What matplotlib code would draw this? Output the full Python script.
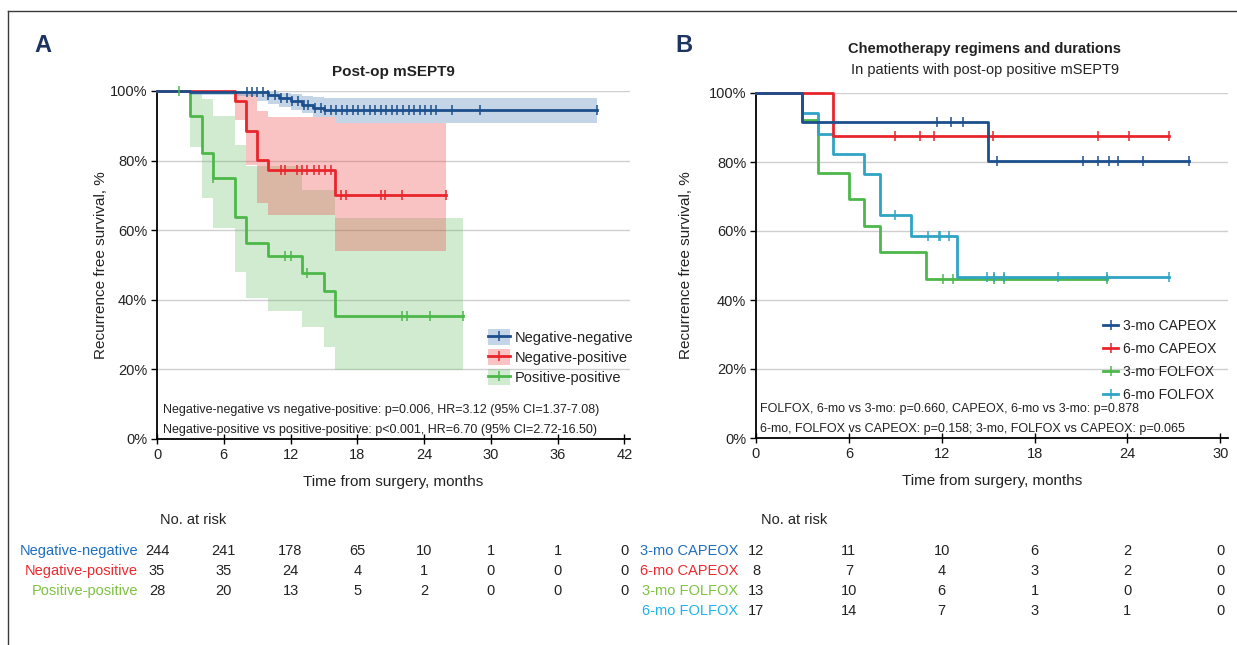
import numpy as np
import matplotlib
matplotlib.use("Agg")
import matplotlib.pyplot as plt
from matplotlib.lines import Line2D
from matplotlib.patches import Patch
from matplotlib import transforms

plt.rcParams["font.family"] = ["Liberation Sans", "DejaVu Sans"]

W, H = 1237, 645

# ---- panel A: recurrence-free survival by post-op mSEPT9 status --------
NN_T = [0, 3, 10, 11, 12, 13, 14, 15]
NN_S = [100, 99.6, 98.9, 97.9, 97.1, 96.0, 95.2, 94.4]
NN_END = 39.5
NN_CENS = [8.1, 8.5, 9.0, 9.5, 10.0, 10.6, 11.1, 11.7, 12.1, 12.7, 13.2, 13.6,
           14.2, 14.7, 15.1, 15.6, 16.1, 16.6, 17.1, 17.6, 18.1, 18.6, 19.1,
           19.6, 20.1, 20.6, 21.1, 21.6, 22.1, 22.6, 23.1, 23.6, 24.1, 24.6,
           25.1, 26.5, 29.0, 39.5]
NN_CI_T = [3, 7, 9, 10, 11, 12, 13, 14, 15, 16]
NN_CI_LO = [98.9, 98.5, 97.0, 96.2, 95.5, 94.5, 93.6, 92.4, 92.4, 90.9]
NN_CI_HI = [100, 100, 100, 99.6, 99.4, 99.0, 98.6, 98.2, 97.9, 97.9]

NP_T = [0, 7, 8, 9, 10, 16]
NP_S = [100, 97.1, 88.6, 80.2, 77.3, 70.1]
NP_END = 26.0
NP_CENS = [11.1, 11.5, 12.6, 13.0, 13.5, 14.1, 14.6, 15.1, 15.6, 16.5, 17.0,
           20.1, 20.5, 22.0, 26.0]
NP_CI_T = [7, 8, 9, 10, 16]
NP_CI_LO = [91.7, 78.7, 67.7, 64.4, 54.1]
NP_CI_HI = [99.5, 99.0, 94.3, 92.4, 90.9]

PP_T = [0, 3, 4, 5, 7, 8, 10, 13, 15, 16]
PP_S = [100, 92.9, 82.3, 75.1, 63.9, 56.2, 52.6, 47.8, 42.5, 35.3]
PP_END = 27.5
PP_CENS = [2.0, 5.0, 11.5, 12.0, 13.5, 22.0, 22.5, 24.5, 27.5]
PP_CI_T = [3, 4, 5, 7, 8, 10, 13, 15, 16]
PP_CI_LO = [84.0, 69.2, 60.7, 48.1, 40.4, 36.9, 32.1, 26.5, 19.8]
PP_CI_HI = [99.3, 97.7, 92.9, 84.5, 78.5, 78.4, 71.5, 71.5, 63.6]

A_LABELS = ["Negative-negative", "Negative-positive", "Positive-positive"]
A_TICKS = [0, 6, 12, 18, 24, 30, 36, 42]
RISK_NN = [244, 241, 178, 65, 10, 1, 1, 0]
RISK_NP = [35, 35, 24, 4, 1, 0, 0, 0]
RISK_PP = [28, 20, 13, 5, 2, 0, 0, 0]
A_STATS = ["Negative-negative vs negative-positive: p=0.006, HR=3.12 (95% CI=1.37-7.08)",
           "Negative-positive vs positive-positive: p<0.001, HR=6.70 (95% CI=2.72-16.50)"]

# ---- panel B: chemotherapy regimen / duration, post-op positive ----------
CAP3_T = [0, 3, 15]
CAP3_S = [100, 91.7, 80.2]
CAP3_END = 28.0
CAP3_CENS = [11.7, 12.6, 13.4, 15.6, 21.1, 22.1, 22.8, 23.4, 25.0, 28.0]

CAP6_T = [0, 5]
CAP6_S = [100, 87.5]
CAP6_END = 26.7
CAP6_CENS = [9.0, 10.6, 11.5, 15.3, 22.1, 24.1, 26.7]

FOL3_T = [0, 3, 4, 6, 7, 8, 11]
FOL3_S = [100, 92.3, 76.9, 69.2, 61.5, 53.8, 46.2]
FOL3_END = 22.7
FOL3_CENS = [12.1, 12.7, 15.4, 16.0, 22.7]

FOL6_T = [0, 3, 4, 5, 7, 8, 10, 13]
FOL6_S = [100, 94.1, 88.2, 82.4, 76.5, 64.6, 58.5, 46.6]
FOL6_END = 26.7
FOL6_CENS = [9.0, 11.1, 11.8, 11.9, 12.5, 14.9, 15.4, 16.0, 19.5, 22.7, 26.7]

B_LABELS = ["3-mo CAPEOX", "6-mo CAPEOX", "3-mo FOLFOX", "6-mo FOLFOX"]
B_TICKS = [0, 6, 12, 18, 24, 30]
RISK_CAP3 = [12, 11, 10, 6, 2, 0]
RISK_CAP6 = [8, 7, 4, 3, 2, 0]
RISK_FOL3 = [13, 10, 6, 1, 0, 0]
RISK_FOL6 = [17, 14, 7, 3, 1, 0]
B_STATS = ["FOLFOX, 6-mo vs 3-mo: p=0.660, CAPEOX, 6-mo vs 3-mo: p=0.878",
           "6-mo, FOLFOX vs CAPEOX: p=0.158; 3-mo, FOLFOX vs CAPEOX: p=0.065"]

# line colours, band colours, risk-table label colours
BLUE, RED, GREEN, TEAL = "#1c4f8c", "#e8252b", "#4cb84a", "#2fa4c3"
BAND_BLUE, BAND_RED, BAND_GREEN = "#7aa3c8", "#ee4a4a", "#5cb85c"
TXT_BLUE, TXT_RED, TXT_GREEN, TXT_CYAN = "#1f6fbf", "#ee2a2e", "#7dc242", "#1fb3e8"
NAVY = "#1d3461"
TXT = "#222222"


def fx(x):
    return x / W


def fy(y):
    return 1 - y / H


def add_axes_px(fig, left, top, right, bottom):
    return fig.add_axes([fx(left), fy(bottom), (right - left) / W, (bottom - top) / H])


def km_line(ax, t, s, end, cens, color):
    ax.step(t + [end], s + [s[-1]], where="post", color=color, lw=2.0,
            clip_on=False, zorder=3)
    idx = np.searchsorted(t, cens, side="right") - 1
    ax.plot(cens, np.array(s)[idx], ls="none", marker="|", ms=7, mew=1.1,
            color=color, clip_on=False, zorder=4)


def km_band(ax, t, lo, hi, end, color, alpha):
    ax.fill_between(t + [end], lo + [lo[-1]], hi + [hi[-1]], step="post",
                    color=color, alpha=alpha, lw=0, zorder=1)


def style_axes(ax, xmax, ticks, ylabelpad):
    ax.set_xlim(0, xmax)
    ax.set_ylim(0, 100)
    ax.set_xticks(ticks)
    ax.set_yticks([0, 20, 40, 60, 80, 100])
    ax.set_yticklabels([f"{v}%" for v in [0, 20, 40, 60, 80, 100]])
    ax.yaxis.grid(True, color="#cfcfcf", lw=1.0)
    ax.set_axisbelow(True)
    for side in ("top", "right"):
        ax.spines[side].set_visible(False)
    for side in ("left", "bottom"):
        ax.spines[side].set_linewidth(1.3)
    ax.tick_params(axis="y", direction="out", length=4, width=1, labelsize=10.5,
                   pad=3, labelcolor=TXT)
    ax.tick_params(axis="x", direction="inout", length=7, width=1, labelsize=10.5,
                   pad=3, labelcolor=TXT)
    ax.set_xlabel("Time from surgery, months", fontsize=11, labelpad=9, color=TXT)
    ax.set_ylabel("Recurrence free survival, %", fontsize=11, labelpad=ylabelpad,
                  color=TXT)


def risk_table(fig, ax, ticks, rows, labels, colors, label_x, row_y):
    trans = transforms.blended_transform_factory(ax.transData, fig.transFigure)
    fig.text(ticks[0] + 0.3, fy(520), "No. at risk", transform=trans, fontsize=10.5,
             ha="left", va="center", color=TXT)
    for vals, lab, col, y in zip(rows, labels, colors, row_y):
        fig.text(fx(label_x), fy(y), lab, color=col, fontsize=10.5, ha="right",
                 va="center")
        for t, v in zip(ticks, vals):
            fig.text(t, fy(y), str(v), transform=trans, fontsize=10.5,
                     ha="center", va="center", color=TXT)


fig = plt.figure(figsize=(W / 100, H / 100), dpi=100)

# frame lines along the top and left edge
fig.add_artist(Line2D([fx(8), 1], [fy(11), fy(11)], color="#3a3a3a", lw=1.0))
fig.add_artist(Line2D([fx(8), fx(8)], [fy(11), 0], color="#3a3a3a", lw=1.0))

# ---- panel A ----
axA = add_axes_px(fig, 157, 91, 630, 439)
km_band(axA, PP_CI_T, PP_CI_LO, PP_CI_HI, PP_END, BAND_GREEN, 0.28)
km_band(axA, NP_CI_T, NP_CI_LO, NP_CI_HI, NP_END, BAND_RED, 0.33)
km_band(axA, NN_CI_T, NN_CI_LO, NN_CI_HI, NN_END, BAND_BLUE, 0.45)
km_line(axA, PP_T, PP_S, PP_END, PP_CENS, GREEN)
km_line(axA, NP_T, NP_S, NP_END, NP_CENS, RED)
km_line(axA, NN_T, NN_S, NN_END, NN_CENS, BLUE)
style_axes(axA, 42.5, A_TICKS, 1)

handlesA = []
for line_c, band_c, alpha in [(BLUE, BAND_BLUE, 0.45), (RED, BAND_RED, 0.33),
                              (GREEN, BAND_GREEN, 0.28)]:
    handlesA.append((Patch(facecolor=band_c, alpha=alpha, lw=0),
                     Line2D([], [], color=line_c, lw=2, marker="|", ms=7, mew=1.1)))
axA.legend(handlesA, A_LABELS, loc="upper left", bbox_to_anchor=(0.70, 0.315),
           frameon=False, fontsize=10.5, handlelength=1.5, handleheight=1.3,
           handletextpad=0.35, labelspacing=0.28, borderaxespad=0, borderpad=0,
           labelcolor=TXT)
for i, line in enumerate(A_STATS):
    axA.text(0.012, 0.083 - i * 0.057, line, transform=axA.transAxes, fontsize=9,
             ha="left", va="center", color=TXT)
axA.set_title("Post-op mSEPT9", fontsize=11, fontweight="bold", pad=11, color=TXT)
fig.text(fx(34), fy(46), "A", fontsize=17, fontweight="bold", color=NAVY,
         ha="left", va="center")

risk_table(fig, axA, A_TICKS, [RISK_NN, RISK_NP, RISK_PP], A_LABELS,
           [TXT_BLUE, TXT_RED, TXT_GREEN], 138, [551, 571, 591])

# ---- panel B ----
axB = add_axes_px(fig, 756, 93, 1228, 438)
km_line(axB, FOL3_T, FOL3_S, FOL3_END, FOL3_CENS, GREEN)
km_line(axB, FOL6_T, FOL6_S, FOL6_END, FOL6_CENS, TEAL)
km_line(axB, CAP6_T, CAP6_S, CAP6_END, CAP6_CENS, RED)
km_line(axB, CAP3_T, CAP3_S, CAP3_END, CAP3_CENS, BLUE)
style_axes(axB, 30.5, B_TICKS, 11)

handlesB = [Line2D([], [], color=c, lw=2, marker="|", ms=7, mew=1.1)
            for c in (BLUE, RED, GREEN, TEAL)]
axB.legend(handlesB, B_LABELS, loc="upper left", bbox_to_anchor=(0.735, 0.345),
           frameon=False, fontsize=10, handlelength=1.1, handletextpad=0.35,
           labelspacing=0.65, borderaxespad=0, borderpad=0, labelcolor=TXT)
for i, line in enumerate(B_STATS):
    axB.text(0.008, 0.083 - i * 0.057, line, transform=axB.transAxes, fontsize=9,
             ha="left", va="center", color=TXT)
fig.text(fx(985), fy(49), "Chemotherapy regimens and durations", fontsize=10.5,
         fontweight="bold", ha="center", va="center", color=TXT)
fig.text(fx(985), fy(70), "In patients with post-op positive mSEPT9", fontsize=10.5,
         ha="center", va="center", color=TXT)
fig.text(fx(675), fy(46), "B", fontsize=17, fontweight="bold", color=NAVY,
         ha="left", va="center")

risk_table(fig, axB, B_TICKS, [RISK_CAP3, RISK_CAP6, RISK_FOL3, RISK_FOL6], B_LABELS,
           [TXT_BLUE, TXT_RED, TXT_GREEN, TXT_CYAN], 738, [551, 571, 591, 611])

fig.savefig("out.png", dpi=100)
